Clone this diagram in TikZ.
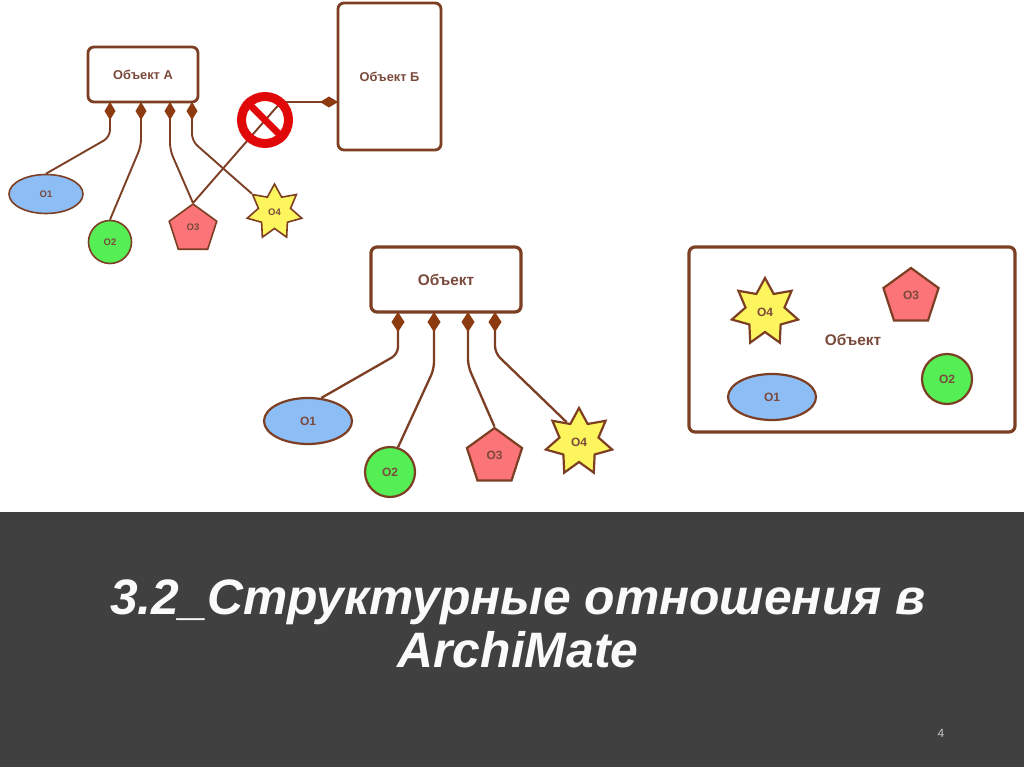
\documentclass[tikz,border=0pt]{standalone}
\usepackage{fontspec}
\setmainfont{Liberation Sans}
\usetikzlibrary{shapes.geometric,arrows.meta}
\definecolor{brn}{HTML}{7D3F24}
\definecolor{dia}{HTML}{8C3A10}
\definecolor{txt}{HTML}{7A4A3C}
\definecolor{blu}{HTML}{8DBDF5}
\definecolor{grn}{HTML}{55EE55}
\definecolor{pnk}{HTML}{FA7478}
\definecolor{yel}{HTML}{FDF55E}
\definecolor{band}{HTML}{404040}
\definecolor{ttl}{HTML}{FAFAFA}
\definecolor{pg}{HTML}{C8C8C8}
\definecolor{sgn}{HTML}{E00808}
\tikzset{
  objbox/.style={draw=brn,line width=2.8pt,rounded corners=6pt,fill=white,inner sep=0pt,text=txt,font=\bfseries\fontsize{12.8}{15}\selectfont},
  bigbox/.style={objbox,line width=3.2pt,font=\bfseries\fontsize{15.4}{18}\selectfont},
  conn/.style={draw=brn,line width=1.9pt,rounded corners=7pt,shorten <=-1.4pt,{Diamond[length=18pt,width=11pt,fill=dia,color=dia]}-},
  bigconn/.style={conn,line width=2.3pt,shorten <=-1.6pt,{Diamond[length=20pt,width=13pt,fill=dia,color=dia]}-},
  shp/.style={draw=brn,line width=1.6pt,inner sep=0pt,font=\bfseries\fontsize{9.5}{11}\selectfont,text=txt},
  bshp/.style={draw=brn,line width=2.2pt,inner sep=0pt,font=\bfseries\fontsize{12}{14}\selectfont,text=txt},
  ell/.style={ellipse,fill=blu},
  circ/.style={circle,fill=grn},
  pent/.style={regular polygon,regular polygon sides=5,fill=pnk},
  starry/.style={star,star points=7,star point ratio=1.7,fill=yel},
}
\begin{document}
\begin{tikzpicture}[x=1pt,y=-1pt]
\useasboundingbox (0,0) rectangle (1024,767);
\fill[white] (0,0) rectangle (1024,767);
\fill[band] (0,512) rectangle (1024,767);

% upper group
\node[objbox,minimum width=110pt,minimum height=55pt] (A) at (143,74.5) {Объект А};
\node[objbox,minimum width=103pt,minimum height=147pt] (B) at (389.5,76.5) {Объект Б};
\node[shp,ell,minimum width=74pt,minimum height=39pt] (a1) at (46,194) {O1};
\node[shp,circ,minimum size=43pt] (a2) at (110,242) {O2};
\node[shp,pent,minimum size=50pt] (a3) at (193,229) {\raisebox{3pt}{O3}};
\node[shp,starry,minimum size=56pt] (a4) at (274.5,212) {O4};
\coordinate (c1) at (110,137);
\coordinate (c2) at (141,146);
\coordinate (c3) at (170,150);
\coordinate (c4) at (192,141);
\coordinate (c5) at (281,102);
\draw[conn] (c1 |- A.south) -- (c1) -- (a1.north);
\draw[conn] (c2 |- A.south) -- (c2) -- (a2.north);
\draw[conn] (c3 |- A.south) -- (c3) -- (a3.corner 1);
\draw[conn] (c4 |- A.south) -- (c4) -- (a4.141);
\draw[conn] (c5 -| B.west) -- (c5) -- (a3.corner 1);
\node[circle,draw=sgn,line width=9pt,minimum size=47pt,inner sep=0pt] (sign) at (265,120) {};
\draw[sgn,line width=7pt] (sign.135) -- (sign.-45);

% middle group
\node[bigbox,minimum width=150pt,minimum height=65pt] (C) at (446,279.5) {Объект};
\node[bshp,ell,minimum width=88pt,minimum height=46pt] (b1) at (308,421) {O1};
\node[bshp,circ,minimum size=50pt] (b2) at (390,472) {O2};
\node[bshp,pent,minimum size=58pt] (b3) at (494.5,457) {\raisebox{3pt}{O3}};
\node[bshp,starry,minimum size=68pt] (b4) at (579,442) {O4};
\coordinate (d1) at (398,354);
\coordinate (d2) at (434,369);
\coordinate (d3) at (468,366);
\coordinate (d4) at (495,353);
\draw[bigconn] (d1 |- C.south) -- (d1) -- (b1.60);
\draw[bigconn] (d2 |- C.south) -- (d2) -- (b2.72);
\draw[bigconn] (d3 |- C.south) -- (d3) -- (b3.corner 1);
\draw[bigconn] (d4 |- C.south) -- (d4) -- (b4.122);

% right group
\node[bigbox,minimum width=326pt,minimum height=185pt] (D) at (852,339.5) {\hspace{2pt}Объект};
\node[bshp,ell,minimum width=88pt,minimum height=46pt] (e1) at (772,397) {O1};
\node[bshp,circ,minimum size=50pt] (e2) at (947,379) {O2};
\node[bshp,pent,minimum size=58pt] (e3) at (911,297) {\raisebox{3pt}{O3}};
\node[bshp,starry,minimum size=68pt] (e4) at (765,312) {O4};

% title
\node[text=ttl,font=\bfseries\itshape\fontsize{49.8}{53}\selectfont,align=center,inner sep=0pt] (title) at (518,624) {3.2\_Структурные отношения в\\ArchiMate};
\node[text=pg,font=\fontsize{12}{14}\selectfont,inner sep=0pt] (page) at (941,733) {4};
\end{tikzpicture}
\end{document}
